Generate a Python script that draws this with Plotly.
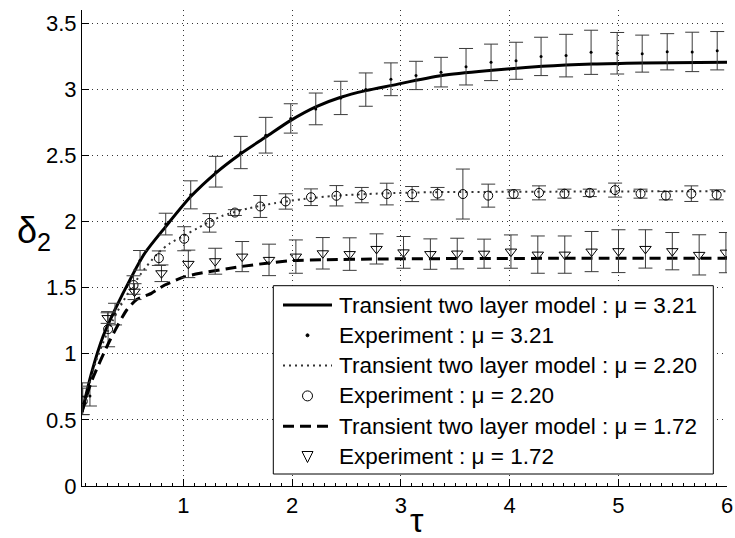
import plotly.graph_objects as go

# ---------------- data ----------------
# Experiment mu = 3.21 (dots)
x_exp1 = [0.141, 0.372, 0.602, 0.838, 1.068, 1.298, 1.528, 1.758, 1.988, 2.218, 2.448, 2.678,
          2.909, 3.140, 3.370, 3.600, 3.830, 4.060, 4.290, 4.520, 4.750, 4.990, 5.220, 5.450, 5.680, 5.910]
y_exp1 = [0.68, 1.30, 1.707, 1.981, 2.202, 2.377, 2.522, 2.653, 2.780, 2.852, 2.935, 2.998,
          3.076, 3.105, 3.130, 3.171, 3.204, 3.216, 3.249, 3.255, 3.280, 3.273, 3.270, 3.284, 3.283, 3.292]
e_exp1 = [0.075, 0.082, 0.074, 0.082, 0.106, 0.116, 0.122, 0.135, 0.111, 0.120, 0.126, 0.126,
          0.124, 0.107, 0.112, 0.138, 0.138, 0.140, 0.145, 0.161, 0.167, 0.157, 0.140, 0.137, 0.149, 0.145]

# Experiment mu = 2.20 (circles)
x_exp2 = [0.075, 0.308, 0.542, 0.775, 1.008, 1.241, 1.474, 1.708, 1.941, 2.174, 2.408, 2.641,
          2.871, 3.104, 3.338, 3.571, 3.804, 4.038, 4.271, 4.505, 4.738, 4.971, 5.205, 5.438, 5.672, 5.905]
y_exp2 = [0.64, 1.186, 1.520, 1.723, 1.870, 1.990, 2.068, 2.114, 2.152, 2.184, 2.195, 2.200,
          2.208, 2.208, 2.211, 2.208, 2.196, 2.208, 2.217, 2.211, 2.217, 2.238, 2.211, 2.196, 2.211, 2.202]
e_exp2 = [0.10, 0.133, 0.070, 0.055, 0.091, 0.070, 0.022, 0.083, 0.058, 0.063, 0.077, 0.058,
          0.082, 0.057, 0.047, 0.189, 0.087, 0.032, 0.053, 0.034, 0.028, 0.053, 0.034, 0.032, 0.059, 0.038]

# Experiment mu = 1.72 (triangles)
x_exp3 = [0.070, 0.304, 0.551, 0.799, 1.046, 1.293, 1.541, 1.788, 2.035, 2.283, 2.530, 2.777,
          3.025, 3.272, 3.519, 3.766, 4.013, 4.260, 4.508, 4.755, 5.002, 5.250, 5.497, 5.744, 5.990]
y_exp3 = [0.66, 1.27, 1.47, 1.609, 1.680, 1.700, 1.735, 1.710, 1.735, 1.760, 1.754, 1.793,
          1.767, 1.754, 1.758, 1.757, 1.773, 1.750, 1.750, 1.773, 1.776, 1.793, 1.776, 1.748, 1.765]
e_exp3 = [0.12, 0.04, 0.06, 0.063, 0.104, 0.098, 0.114, 0.119, 0.126, 0.119, 0.123, 0.114,
          0.120, 0.115, 0.116, 0.110, 0.126, 0.141, 0.141, 0.152, 0.162, 0.145, 0.141, 0.152, 0.152]

# Transient two layer model curves
x_mod1 = [0.068, 0.154, 0.261, 0.369, 0.522, 0.645, 0.838, 1.068, 1.298, 1.528, 1.758, 1.988,
          2.218, 2.448, 2.678, 2.917, 3.377, 3.840, 4.300, 4.763, 5.220, 6.000]
y_mod1 = [0.56, 0.85, 1.13, 1.33, 1.58, 1.76, 1.962, 2.189, 2.367, 2.513, 2.639, 2.765,
          2.867, 2.940, 2.990, 3.030, 3.104, 3.144, 3.174, 3.192, 3.200, 3.205]

x_mod2 = [0.068, 0.20, 0.35, 0.50, 0.648, 0.779, 0.878, 1.00, 1.13, 1.35, 1.60, 1.85,
          2.10, 2.40, 2.80, 3.30, 4.00, 5.00, 6.00]
y_mod2 = [0.56, 0.95, 1.25, 1.47, 1.647, 1.77, 1.836, 1.89, 1.95, 2.04, 2.10, 2.14,
          2.17, 2.195, 2.212, 2.222, 2.225, 2.228, 2.23]

x_mod3 = [0.068, 0.15, 0.326, 0.479, 0.571, 0.706, 0.829, 1.013, 1.154, 1.522, 1.767, 2.010,
          2.320, 2.780, 3.500, 4.500, 6.000]
y_mod3 = [0.56, 0.78, 1.104, 1.331, 1.41, 1.457, 1.52, 1.583, 1.609, 1.659, 1.685, 1.705,
          1.712, 1.717, 1.720, 1.722, 1.723]

x_ticks = [1, 2, 3, 4, 5, 6]
y_ticks = [0, 0.5, 1, 1.5, 2, 2.5, 3, 3.5]
y_tick_text = ["0", "0.5", "1", "1.5", "2", "2.5", "3", "3.5"]

names = ["Transient two layer model : \u03bc = 3.21", "Experiment : \u03bc = 3.21",
         "Transient two layer model : \u03bc = 2.20", "Experiment : \u03bc = 2.20",
         "Transient two layer model : \u03bc = 1.72", "Experiment : \u03bc = 1.72"]

# ---------------- figure ----------------
FONT = "Liberation Sans, Arial, sans-serif"
EB = "#3a3a3a"
DOT_DASH = "2px,4px"
LONG_DASH = "11px,6px"

fig = go.Figure()
fig.add_trace(go.Scatter(x=x_mod1, y=y_mod1, mode="lines", name=names[0],
                         line=dict(color="black", width=3, shape="spline", smoothing=0.8)))
fig.add_trace(go.Scatter(x=x_exp1, y=y_exp1, mode="markers", name=names[1],
                         marker=dict(symbol="circle", size=3, color="black"),
                         error_y=dict(type="data", array=e_exp1, color=EB, thickness=1, width=7)))
fig.add_trace(go.Scatter(x=x_mod2, y=y_mod2, mode="lines", name=names[2],
                         line=dict(color="#333333", width=2, dash=DOT_DASH, shape="spline", smoothing=0.8)))
fig.add_trace(go.Scatter(x=x_exp2, y=y_exp2, mode="markers", name=names[3],
                         marker=dict(symbol="circle-open", size=9, color="black", line=dict(width=1)),
                         error_y=dict(type="data", array=e_exp2, color=EB, thickness=1, width=7)))
fig.add_trace(go.Scatter(x=x_mod3, y=y_mod3, mode="lines", name=names[4],
                         line=dict(color="black", width=3, dash=LONG_DASH, shape="spline", smoothing=0.6)))
fig.add_trace(go.Scatter(x=x_exp3, y=y_exp3, mode="markers", name=names[5],
                         marker=dict(symbol="triangle-down-open", size=10, color="black", line=dict(width=1)),
                         error_y=dict(type="data", array=e_exp3, color=EB, thickness=1, width=7)))

L, R, T, B = 82, 8, 10, 52
W, H = 735, 538
pw, ph = W - L - R, H - T - B

def px_x(p):
    return (p - L) / pw

def px_y(p):
    return (H - B - p) / ph

# ---------------- hand-drawn legend box (paper coordinates) ----------------
shapes = []
annotations = []
box_l, box_r, box_t, box_b = 273.3, 713.3, 285.7, 474.0
shapes.append(dict(type="rect", xref="paper", yref="paper", layer="above",
                   x0=px_x(box_l), x1=px_x(box_r), y0=px_y(box_b), y1=px_y(box_t),
                   line=dict(color="black", width=1), fillcolor="white"))
row_y = [305.0, 335.3, 365.6, 395.9, 426.2, 456.5]
ln_x0, ln_x1, mk_x, txt_x = 283.0, 332.0, 307.5, 337.0

def leg_line(yp, dash, width, color):
    shapes.append(dict(type="line", xref="paper", yref="paper", layer="above",
                       x0=px_x(ln_x0), x1=px_x(ln_x1), y0=px_y(yp), y1=px_y(yp),
                       line=dict(color=color, width=width, dash=dash)))

def leg_circle(yp, r, filled):
    shapes.append(dict(type="circle", xref="paper", yref="paper", layer="above",
                       x0=px_x(mk_x - r), x1=px_x(mk_x + r), y0=px_y(yp + r), y1=px_y(yp - r),
                       line=dict(color="black", width=1),
                       fillcolor="black" if filled else "rgba(0,0,0,0)"))

def leg_triangle(yp):
    hw, up, dn = 5.5, 5.0, 6.0
    pts = [(mk_x - hw, yp - up), (mk_x + hw, yp - up), (mk_x, yp + dn)]
    path = "M {} {} L {} {} L {} {} Z".format(*[v for p in pts for v in (px_x(p[0]), px_y(p[1]))])
    shapes.append(dict(type="path", xref="paper", yref="paper", layer="above", path=path,
                       line=dict(color="black", width=1), fillcolor="rgba(0,0,0,0)"))

leg_line(row_y[0], "solid", 3, "black")
leg_circle(row_y[1], 1.5, True)
leg_line(row_y[2], DOT_DASH, 2, "#333333")
leg_circle(row_y[3], 5.0, False)
leg_line(row_y[4], LONG_DASH, 3, "black")
leg_triangle(row_y[5])

for nm, yp in zip(names, row_y):
    annotations.append(dict(text=nm, xref="paper", yref="paper", x=px_x(txt_x), y=px_y(yp),
                            xanchor="left", yanchor="middle", showarrow=False,
                            font=dict(family=FONT, size=22.5, color="black")))

annotations.append(dict(text="\u03b4<sub>2</sub>", xref="paper", yref="paper", x=px_x(34), y=px_y(233),
                        xanchor="center", yanchor="middle", showarrow=False,
                        font=dict(family=FONT, size=36, color="black")))
annotations.append(dict(text="\u03c4", xref="paper", yref="paper", x=px_x(417), y=px_y(520),
                        xanchor="center", yanchor="middle", showarrow=False,
                        font=dict(family=FONT, size=34, color="black")))

fig.update_layout(
    width=W, height=H,
    margin=dict(l=L, r=R, t=T, b=B, autoexpand=False),
    paper_bgcolor="white", plot_bgcolor="white",
    font=dict(family=FONT, size=22, color="black"),
    showlegend=False,
    xaxis=dict(range=[0.068, 6], tickmode="array", tickvals=x_ticks, automargin=False,
               showline=True, linecolor="black", linewidth=1, mirror=False,
               ticks="inside", ticklen=7, tickcolor="black",
               minor=dict(dtick=0.1, ticks="inside", ticklen=3, tickcolor="black", showgrid=False),
               showgrid=True, gridcolor="#333333", griddash="1px,4px", gridwidth=1,
               zeroline=False, tickfont=dict(family=FONT, size=22)),
    yaxis=dict(range=[0, 3.6], tickmode="array", tickvals=y_ticks, ticktext=y_tick_text, automargin=False,
               showline=True, linecolor="black", linewidth=1, mirror=False,
               ticks="inside", ticklen=7, tickcolor="black",
               showgrid=True, gridcolor="#333333", griddash="1px,4px", gridwidth=1,
               zeroline=False, tickfont=dict(family=FONT, size=22)),
    shapes=shapes,
    annotations=annotations,
)

fig.write_html("out.html", config={"displayModeBar": False},
               post_script="document.body.style.margin='0';document.body.style.overflow='hidden';")
